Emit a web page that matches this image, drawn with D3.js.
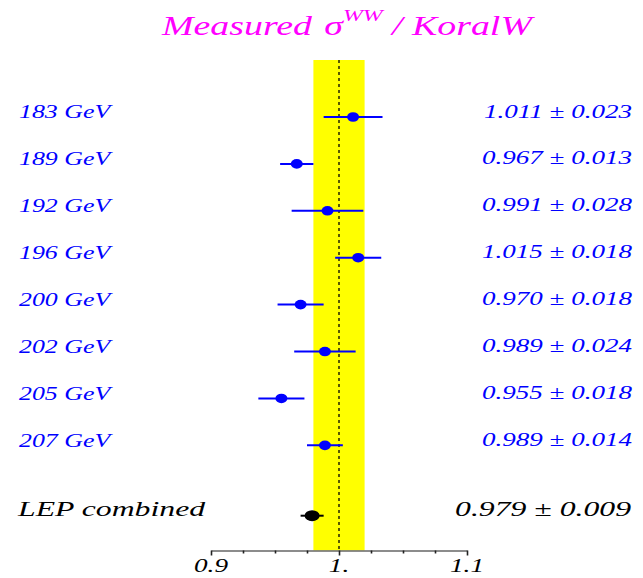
<!DOCTYPE html>
<html>
<head>
<meta charset="utf-8">
<script src="https://cdn.jsdelivr.net/npm/d3@7"></script>
<style>
  body { margin: 0; background: #fff; }
  text { font-family: "Liberation Serif", "Times New Roman", serif; font-style: italic; }
</style>
</head>
<body>
<svg width="643" height="578"></svg>
<script>
// data
const energies = ["183 GeV", "189 GeV", "192 GeV", "196 GeV", "200 GeV", "202 GeV", "205 GeV", "207 GeV"];
const ratios = [1.011, 0.967, 0.991, 1.015, 0.970, 0.989, 0.955, 0.989];
const errors = [0.023, 0.013, 0.028, 0.018, 0.018, 0.024, 0.018, 0.014];
const combinedLabel = "LEP combined";
const combinedValue = 0.979;
const combinedError = 0.009;
const theoryBand = [0.98, 1.02];
const tickValues = [0.9, 0.925, 0.95, 0.975, 1.0, 1.025, 1.05, 1.075, 1.1];
const majorTicks = [0.9, 1.0, 1.1];
const tickLabels = ["0.9", "1.", "1.1"];

const fmt = d3.format(".3f");
const rows = energies.map((e, i) => ({ label: e, value: ratios[i], error: errors[i], pos: i }));
const combined = { label: combinedLabel, value: combinedValue, error: combinedError, pos: 8.5 };

const axisY = 550.5, bandTop = 60;
const blue = "#0000ff", magenta = "#ff00ff";

const svg = d3.select("svg");

const x = d3.scaleLinear().domain([0.9, 1.1]).range([211, 467]);
const y = d3.scaleLinear().domain([0, 8.5]).range([117, 515.7]);

// stretch text horizontally so the first item gets the target width
function stretch(sel, target, px, py) {
  const w = sel.node().getBBox().width;
  const k = target / w;
  sel.attr("transform", (d, i) => `translate(${px(d, i)},${py(d, i)}) scale(${k},1)`);
}

// theory band
svg.append("rect")
  .attr("x", x(theoryBand[0]))
  .attr("width", x(theoryBand[1]) - x(theoryBand[0]))
  .attr("y", bandTop)
  .attr("height", axisY - bandTop)
  .attr("fill", "#ffff00");

svg.append("line")
  .attr("x1", x(1)).attr("x2", x(1))
  .attr("y1", bandTop).attr("y2", axisY)
  .attr("stroke", "#000")
  .attr("stroke-width", 1.3)
  .attr("stroke-dasharray", "3,3");

// axis
const axis = svg.append("g")
  .attr("transform", `translate(0,${axisY})`)
  .call(d3.axisBottom(x).tickValues(tickValues).tickSize(3).tickSizeOuter(0).tickFormat(""));
axis.select(".domain").attr("stroke", "#666").attr("stroke-width", 1.3);
axis.selectAll(".tick line")
  .attr("stroke", "#222")
  .attr("stroke-width", 1.6)
  .attr("y2", d => majorTicks.includes(d) ? 5 : 3);

const tl = svg.append("g").selectAll("text")
  .data(majorTicks)
  .join("text")
  .attr("text-anchor", "middle")
  .attr("font-size", 18)
  .attr("fill", "#000")
  .text((d, i) => tickLabels[i]);
stretch(tl, 34, d => x(d), () => 572);

// error bars + points
svg.append("g").selectAll("line")
  .data(rows)
  .join("line")
  .attr("x1", d => x(d.value - d.error))
  .attr("x2", d => x(d.value + d.error))
  .attr("y1", d => y(d.pos)).attr("y2", d => y(d.pos))
  .attr("stroke", blue)
  .attr("stroke-width", 2);

svg.append("g").selectAll("ellipse")
  .data(rows)
  .join("ellipse")
  .attr("cx", d => x(d.value))
  .attr("cy", d => y(d.pos))
  .attr("rx", 6).attr("ry", 4.8)
  .attr("fill", blue);

svg.append("line")
  .attr("x1", x(combined.value - combined.error))
  .attr("x2", x(combined.value + combined.error))
  .attr("y1", y(combined.pos)).attr("y2", y(combined.pos))
  .attr("stroke", "#000")
  .attr("stroke-width", 2);

svg.append("ellipse")
  .attr("cx", x(combined.value))
  .attr("cy", y(combined.pos))
  .attr("rx", 7.5).attr("ry", 5.5)
  .attr("fill", "#000");

// labels
const left = svg.append("g").selectAll("text")
  .data(rows)
  .join("text")
  .attr("font-size", 19.5)
  .attr("fill", blue)
  .text(d => d.label);
stretch(left, 94, () => 19, d => y(d.pos) + 1.2);

const right = svg.append("g").selectAll("text")
  .data(rows)
  .join("text")
  .attr("font-size", 18.5)
  .attr("text-anchor", "end")
  .attr("fill", blue)
  .text(d => `${fmt(d.value)} \u00b1 ${fmt(d.error)}`);
stretch(right, 148, () => 632, d => y(d.pos) + 0.5);

const cl = svg.append("text").datum(combined)
  .attr("font-size", 22)
  .attr("fill", "#000")
  .text(d => d.label);
stretch(cl, 190, () => 18, d => y(d.pos) + 0.5);

const cv = svg.append("text").datum(combined)
  .attr("font-size", 22)
  .attr("text-anchor", "end")
  .attr("fill", "#000")
  .text(d => `${fmt(d.value)} \u00b1 ${fmt(d.error)}`);
stretch(cv, 176, () => 631, d => y(d.pos) + 0.5);

// title
const title = svg.append("text").datum(0)
  .attr("font-size", 27)
  .attr("fill", magenta);
title.append("tspan").text("Measured ");
title.append("tspan").attr("dx", 2).text("\u03c3");
title.append("tspan").attr("font-size", 17).attr("dy", -14).text("WW");
title.append("tspan").attr("dy", 14).text(" / KoralW");
stretch(title, 375, () => 162, () => 35);
</script>
</body>
</html>
